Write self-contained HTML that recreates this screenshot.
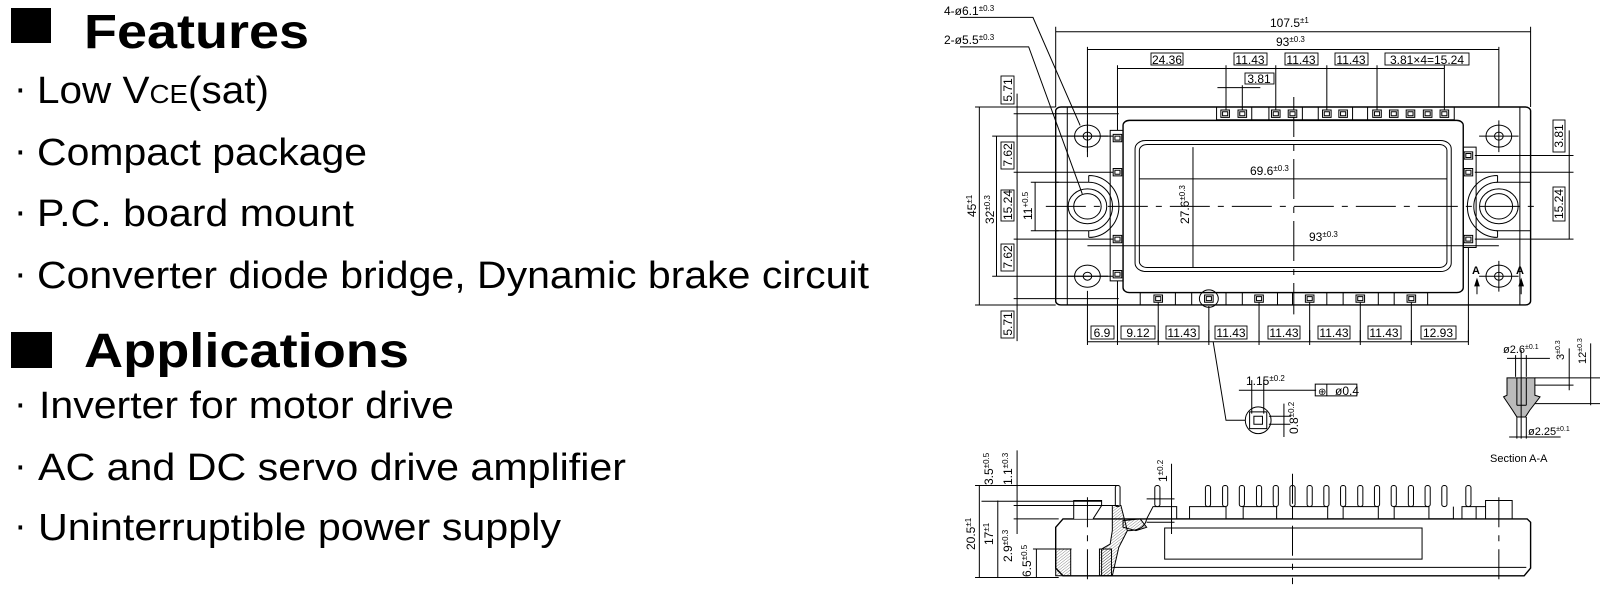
<!DOCTYPE html>
<html><head><meta charset="utf-8"><style>
html,body{margin:0;padding:0;background:#fff;}
svg{display:block;}
.t{font-family:"Liberation Sans",Arial,sans-serif;fill:#000;}
</style></head><body>
<svg width="1600" height="592" viewBox="0 0 1600 592" xmlns="http://www.w3.org/2000/svg">
<defs>
<pattern id="h" width="6" height="6" patternUnits="userSpaceOnUse" patternTransform="rotate(45)">
<line x1="0" y1="0" x2="0" y2="6" stroke="#000" stroke-width="1.2"/></pattern>
<g id="pin"><rect x="-10" y="-11" width="20" height="22" fill="#fff" stroke="#000" vector-effect="non-scaling-stroke"/><rect x="-6" y="-6" width="12" height="12" fill="none" stroke="#000" vector-effect="non-scaling-stroke"/></g>
</defs>

<!-- LEFT TEXT -->
<rect x="11" y="8" width="40" height="35" fill="#000"/>
<text class="t" x="84" y="48" font-size="48" font-weight="bold" textLength="225" lengthAdjust="spacingAndGlyphs">Features</text>
<g class="t" font-size="38">
<text class="t" x="14" y="101">·</text>
<text class="t" x="37" y="103" textLength="232" lengthAdjust="spacingAndGlyphs">Low V<tspan font-size="26">CE</tspan>(sat)</text>
<text class="t" x="14" y="163">·</text>
<text class="t" x="37" y="165" textLength="330" lengthAdjust="spacingAndGlyphs">Compact package</text>
<text class="t" x="14" y="224">·</text>
<text class="t" x="37" y="226" textLength="317" lengthAdjust="spacingAndGlyphs">P.C. board mount</text>
<text class="t" x="14" y="286">·</text>
<text class="t" x="37" y="288" textLength="832" lengthAdjust="spacingAndGlyphs">Converter diode bridge, Dynamic brake circuit</text>
</g>
<rect x="11" y="332" width="41" height="36" fill="#000"/>
<text class="t" x="84" y="367" font-size="48" font-weight="bold" textLength="325" lengthAdjust="spacingAndGlyphs">Applications</text>
<g font-size="38">
<text class="t" x="14" y="416">·</text>
<text class="t" x="39" y="418" textLength="415" lengthAdjust="spacingAndGlyphs">Inverter for motor drive</text>
<text class="t" x="14" y="478">·</text>
<text class="t" x="38" y="480" textLength="588" lengthAdjust="spacingAndGlyphs">AC and DC servo drive amplifier</text>
<text class="t" x="14" y="538">·</text>
<text class="t" x="38" y="540" textLength="523" lengthAdjust="spacingAndGlyphs">Uninterruptible power supply</text>
</g>

<!-- TOP VIEW (zoom coords) -->
<g transform="translate(930 0) scale(0.429 0.3344)" fill="none" stroke="#000" stroke-width="1">
<g vector-effect="non-scaling-stroke">
<path d="M70,52 L240,52 L350,375" vector-effect="non-scaling-stroke"/>
<path d="M70,140 L230,140 L355,580" vector-effect="non-scaling-stroke"/>
<rect x="293" y="320" width="1107" height="592" rx="12" stroke-width="1.4" vector-effect="non-scaling-stroke"/>
<path d="M293,545 L370,545 M293,690 L370,690 M1320,545 L1400,545 M1320,690 L1400,690 M320,320 L320,912 M1375,320 L1375,912" vector-effect="non-scaling-stroke"/>
<rect x="450" y="360" width="793" height="515" rx="15" stroke-width="1.4" vector-effect="non-scaling-stroke"/>
<rect x="478" y="420" width="737" height="392" rx="25" vector-effect="non-scaling-stroke"/>
<rect x="488" y="432" width="717" height="368" rx="18" vector-effect="non-scaling-stroke"/>
<rect x="668" y="320" width="554" height="38" vector-effect="non-scaling-stroke"/>
<path d="M750,320V358 M790,320V358 M868,320V358 M905,320V358 M985,320V358 M1020,320V358" vector-effect="non-scaling-stroke"/>
<rect x="420" y="390" width="30" height="450" vector-effect="non-scaling-stroke"/>
<rect x="1243" y="440" width="30" height="300" vector-effect="non-scaling-stroke"/>
<rect x="490" y="875" width="670" height="37" vector-effect="non-scaling-stroke"/>
<path d="M572,875V912 M610,875V912 M690,875V912 M728,875V912 M810,875V912 M845,875V912 M925,875V912 M963,875V912 M1045,875V912 M1082,875V912" vector-effect="non-scaling-stroke"/>
<g vector-effect="non-scaling-stroke">
<ellipse cx="367" cy="407" rx="30" ry="33" vector-effect="non-scaling-stroke"/><ellipse cx="367" cy="407" rx="10" ry="12" vector-effect="non-scaling-stroke"/>
<ellipse cx="1326" cy="407" rx="30" ry="33" vector-effect="non-scaling-stroke"/><ellipse cx="1326" cy="407" rx="10" ry="12" vector-effect="non-scaling-stroke"/>
<ellipse cx="367" cy="826" rx="30" ry="33" vector-effect="non-scaling-stroke"/><ellipse cx="367" cy="826" rx="10" ry="12" vector-effect="non-scaling-stroke"/>
<ellipse cx="1326" cy="826" rx="30" ry="33" vector-effect="non-scaling-stroke"/><ellipse cx="1326" cy="826" rx="10" ry="12" vector-effect="non-scaling-stroke"/>
<ellipse cx="367" cy="617" rx="45" ry="52" vector-effect="non-scaling-stroke"/><ellipse cx="367" cy="617" rx="32" ry="38" vector-effect="non-scaling-stroke"/>
<ellipse cx="1326" cy="617" rx="45" ry="52" vector-effect="non-scaling-stroke"/><ellipse cx="1326" cy="617" rx="32" ry="38" vector-effect="non-scaling-stroke"/>
<path d="M370,525 A70,92 0 0 1 370,710 M370,545 A55,72 0 0 1 370,690 M370,525V545 M370,690V710" vector-effect="non-scaling-stroke"/>
<path d="M1323,525 A70,92 0 0 0 1323,710 M1323,545 A55,72 0 0 0 1323,690 M1323,525V545 M1323,690V710" vector-effect="non-scaling-stroke"/>
<path d="M320,407H415 M367,360V455 M1280,407H1372 M1326,360V455 M320,826H415 M1280,826H1372 M1326,780V872" vector-effect="non-scaling-stroke"/>
</g>
<path d="M270,617H1420 M848,290V940" stroke-dasharray="40 8 6 8" vector-effect="non-scaling-stroke"/>
<path d="M293,95H1400 M293,80V320 M1400,80V320 M367,148H1326 M367,140V470 M1326,140V320 M437,205H1199 M437,195V390 M690,195V330 M806,195V330 M925,195V330 M1042,195V330 M1199,195V330 M728,255V330 M670,262H770" vector-effect="non-scaling-stroke"/>
<path d="M115,320V912 M105,320H293 M105,912H293 M155,407V826 M145,407H440 M145,826H440 M245,545V690 M235,545H300 M235,690H300 M203,280V1020 M195,340H440 M195,515H440 M195,715H440 M195,893H440" vector-effect="non-scaling-stroke"/>
<path d="M1490,390V715 M1270,465H1500 M1270,515H1500 M1270,715H1500" vector-effect="non-scaling-stroke"/>
<path d="M488,535H1205 M613,440V800 M367,735H1326" vector-effect="non-scaling-stroke"/>
<path d="M367,870V1020 M437,840V1020 M532,905V1020 M650,915V1020 M767,905V1020 M885,905V1020 M1003,905V1020 M1122,905V1020 M1255,740V1020" vector-effect="non-scaling-stroke"/>
<ellipse cx="650" cy="893" rx="22" ry="26" vector-effect="non-scaling-stroke"/>
<path d="M1275,840V880 M1378,840V880" vector-effect="non-scaling-stroke"/>
<path d="M1270,855L1275,835L1280,855Z M1373,855L1378,835L1383,855Z" fill="#000" vector-effect="non-scaling-stroke"/>
</g>
<g>
<use href="#pin" x="688" y="340"/><use href="#pin" x="728" y="340"/><use href="#pin" x="806" y="340"/><use href="#pin" x="845" y="340"/><use href="#pin" x="925" y="340"/><use href="#pin" x="963" y="340"/><use href="#pin" x="1042" y="340"/><use href="#pin" x="1081" y="340"/><use href="#pin" x="1120" y="340"/><use href="#pin" x="1160" y="340"/><use href="#pin" x="1199" y="340"/>
<use href="#pin" x="437" y="413"/><use href="#pin" x="437" y="515"/><use href="#pin" x="437" y="715"/><use href="#pin" x="437" y="820"/>
<use href="#pin" x="1255" y="465"/><use href="#pin" x="1255" y="515"/><use href="#pin" x="1255" y="715"/>
<use href="#pin" x="532" y="893"/><use href="#pin" x="650" y="893"/><use href="#pin" x="767" y="893"/><use href="#pin" x="885" y="893"/><use href="#pin" x="1003" y="893"/><use href="#pin" x="1122" y="893"/>
</g>
</g>

<!-- BOTTOM (zoom2 coords) -->
<g transform="translate(930 330) scale(0.429 0.3344)" fill="none" stroke="#000">
<path d="M367,0V45 M437,0V45 M532,0V45 M650,0V45 M767,0V45 M885,0V45 M1003,0V45 M1122,0V45 M1255,0V45 M367,35H1255" vector-effect="non-scaling-stroke"/>
<path d="M660,35 L690,270 L735,270" vector-effect="non-scaling-stroke"/>
<ellipse cx="765" cy="270" rx="30" ry="40" vector-effect="non-scaling-stroke"/>
<rect x="745" y="245" width="40" height="50" vector-effect="non-scaling-stroke"/>
<rect x="755" y="258" width="20" height="24" vector-effect="non-scaling-stroke"/>
<path d="M720,180H900 M750,150V250 M778,150V250 M825,220V320 M790,258H840 M790,282H840" vector-effect="non-scaling-stroke"/>
<rect x="898" y="162" width="97" height="35" vector-effect="non-scaling-stroke"/>
<path d="M925,162V197" vector-effect="non-scaling-stroke"/>
<path d="M1345,143 L1410,143 L1410,195 L1422,200 L1398,240 L1388,260 L1368,260 L1358,240 L1337,200 L1345,195 Z" fill="#bbb" vector-effect="non-scaling-stroke"/>
<path d="M1368,143V225 M1390,143V225 M1368,225H1390" vector-effect="non-scaling-stroke"/>
<path d="M1378,60V325 M1345,85H1445 M1365,75V140 M1390,75V140 M1350,320H1470 M1368,260V325 M1390,260V325 M1490,55V180 M1540,40V225 M1410,143H1565 M1410,165H1500 M1410,220H1565" vector-effect="non-scaling-stroke"/>
<path d="M293,590 L310,565 L1392,565 L1400,575 L1400,712 L1385,735 L310,735 L293,712 Z" fill="#fff" stroke-width="1.4" vector-effect="non-scaling-stroke"/>
<path d="M425,710H1390" vector-effect="non-scaling-stroke"/>
<rect x="547" y="592" width="600" height="93" vector-effect="non-scaling-stroke"/>
<path d="M335,565V510H400V525L380,565" fill="#fff" vector-effect="non-scaling-stroke"/>
<path d="M425,525L445,525L460,600L440,650L425,735L400,735L400,655L420,640L425,600Z" fill="url(#h)" vector-effect="non-scaling-stroke"/>
<rect x="293" y="655" width="35" height="80" fill="url(#h)" vector-effect="non-scaling-stroke"/>
<rect x="395" y="655" width="28" height="80" fill="url(#h)" vector-effect="non-scaling-stroke"/>
<path d="M450,570 L490,565 L505,590 L480,600 L450,590Z" fill="url(#h)" vector-effect="non-scaling-stroke"/>
<path d="M460,600 Q500,600 505,565 L520,528 L575,528 L575,565 L605,565 L605,528 L690,528 L690,565 L730,565 L730,528 L808,528 L808,565 L845,565 L845,528 L927,528 L927,565 L963,565 L963,528 L1045,528 L1045,565 L1082,565 L1082,528 L1163,528 L1163,565 L1220,565 L1220,528 M1240,565 L1240,528 L1295,528 M1295,565 L1295,510 L1357,510 L1357,565 M1273,528 V565" vector-effect="non-scaling-stroke"/>
<g fill="#fff" vector-effect="non-scaling-stroke">
<rect x="432" y="465" width="11" height="63" rx="5" vector-effect="non-scaling-stroke"/>
<rect x="524" y="465" width="12" height="63" rx="6" vector-effect="non-scaling-stroke"/>
<rect x="642" y="465" width="12" height="63" rx="6" vector-effect="non-scaling-stroke"/>
<rect x="682" y="465" width="12" height="63" rx="6" vector-effect="non-scaling-stroke"/>
<rect x="721" y="465" width="12" height="63" rx="6" vector-effect="non-scaling-stroke"/>
<rect x="761" y="465" width="12" height="63" rx="6" vector-effect="non-scaling-stroke"/>
<rect x="800" y="465" width="12" height="63" rx="6" vector-effect="non-scaling-stroke"/>
<rect x="839" y="465" width="12" height="63" rx="6" vector-effect="non-scaling-stroke"/>
<rect x="879" y="465" width="12" height="63" rx="6" vector-effect="non-scaling-stroke"/>
<rect x="918" y="465" width="12" height="63" rx="6" vector-effect="non-scaling-stroke"/>
<rect x="957" y="465" width="12" height="63" rx="6" vector-effect="non-scaling-stroke"/>
<rect x="997" y="465" width="12" height="63" rx="6" vector-effect="non-scaling-stroke"/>
<rect x="1036" y="465" width="12" height="63" rx="6" vector-effect="non-scaling-stroke"/>
<rect x="1075" y="465" width="12" height="63" rx="6" vector-effect="non-scaling-stroke"/>
<rect x="1115" y="465" width="12" height="63" rx="6" vector-effect="non-scaling-stroke"/>
<rect x="1154" y="465" width="12" height="63" rx="6" vector-effect="non-scaling-stroke"/>
<rect x="1193" y="465" width="12" height="63" rx="6" vector-effect="non-scaling-stroke"/>
<rect x="1249" y="465" width="12" height="63" rx="6" vector-effect="non-scaling-stroke"/>
</g>
<path d="M367,500V760 M845,430V760 M1326,500V760" stroke-dasharray="30 8 6 8" vector-effect="non-scaling-stroke"/>
<path d="M115,465V740 M158,510V740 M203,360V610 M248,655V740 M105,465H440 M120,512H400 M195,525H440 M195,565H300 M240,655H330 M105,740H300 M563,400V610 M505,505H570 M505,575H570" vector-effect="non-scaling-stroke"/>
</g>

<!-- DIMENSION TEXTS -->
<g class="t" font-size="12">
<text x="944" y="15">4-ø6.1<tspan font-size="8" dy="-4">±0.3</tspan></text>
<text x="944" y="44">2-ø5.5<tspan font-size="8" dy="-4">±0.3</tspan></text>
<text x="1270" y="27">107.5<tspan font-size="8" dy="-4">±1</tspan></text>
<text x="1276" y="46">93<tspan font-size="8" dy="-4">±0.3</tspan></text>
<text x="1250" y="175">69.6<tspan font-size="8" dy="-4">±0.3</tspan></text>
<text x="1309" y="241">93<tspan font-size="8" dy="-4">±0.3</tspan></text>
<text x="1472" y="274" font-weight="bold" font-size="11">A</text>
<text x="1516" y="274" font-weight="bold" font-size="11">A</text>
<text x="1246" y="385">1.15<tspan font-size="8" dy="-4">±0.2</tspan></text>
<text x="1335" y="395">ø0.4</text>
<text x="1318" y="395" font-size="10">⊕</text>
<text x="1503" y="353" font-size="11">ø2.6<tspan font-size="7" dy="-4">±0.1</tspan></text>
<text x="1528" y="435" font-size="11">ø2.25<tspan font-size="7" dy="-4">±0.1</tspan></text>
<text x="1490" y="462" font-size="11">Section A-A</text>
<text transform="translate(1189 224) rotate(-90)">27.6<tspan font-size="8" dy="-4">±0.3</tspan></text>
<text transform="translate(976 217) rotate(-90)">45<tspan font-size="8" dy="-4">±1</tspan></text>
<text transform="translate(994 224) rotate(-90)">32<tspan font-size="8" dy="-4">±0.3</tspan></text>
<text transform="translate(1032 220) rotate(-90)">11<tspan font-size="8" dy="-4">+0.5</tspan></text>
<text transform="translate(1298 434) rotate(-90)">0.8<tspan font-size="8" dy="-4">±0.2</tspan></text>
<text transform="translate(1564 360) rotate(-90)" font-size="11">3<tspan font-size="7" dy="-4">±0.3</tspan></text>
<text transform="translate(1586 364) rotate(-90)" font-size="11">12<tspan font-size="7" dy="-4">±0.3</tspan></text>
<text transform="translate(975 550) rotate(-90)">20.5<tspan font-size="8" dy="-4">±1</tspan></text>
<text transform="translate(993 545) rotate(-90)">17<tspan font-size="8" dy="-4">±1</tspan></text>
<text transform="translate(993 485) rotate(-90)">3.5<tspan font-size="8" dy="-4">±0.5</tspan></text>
<text transform="translate(1012 485) rotate(-90)">1.1<tspan font-size="8" dy="-4">±0.3</tspan></text>
<text transform="translate(1012 562) rotate(-90)">2.9<tspan font-size="8" dy="-4">±0.3</tspan></text>
<text transform="translate(1031 577) rotate(-90)">6.5<tspan font-size="8" dy="-4">±0.5</tspan></text>
<text transform="translate(1167 482) rotate(-90)">1<tspan font-size="8" dy="-4">±0.2</tspan></text>
</g>
<g fill="none" stroke="#000" stroke-width="0.9">
<rect x="1151" y="53" width="32" height="12"/><rect x="1234" y="53" width="33" height="12"/><rect x="1285" y="53" width="33" height="12"/><rect x="1335" y="53" width="33" height="12"/><rect x="1385" y="53" width="84" height="12"/>
<rect x="1245" y="73" width="29" height="11"/>
<rect x="1001" y="76" width="13" height="28"/><rect x="1001" y="142" width="13" height="27"/><rect x="1001" y="190" width="13" height="31"/><rect x="1001" y="244" width="13" height="27"/><rect x="1001" y="311" width="13" height="27"/>
<rect x="1553" y="120" width="12" height="32"/><rect x="1553" y="187" width="12" height="34"/>
<rect x="1091" y="326" width="23" height="13"/><rect x="1121" y="326" width="34" height="13"/><rect x="1166" y="326" width="33" height="13"/><rect x="1215" y="326" width="32" height="13"/><rect x="1268" y="326" width="32" height="13"/><rect x="1318" y="326" width="32" height="13"/><rect x="1368" y="326" width="33" height="13"/><rect x="1421" y="326" width="35" height="13"/>
</g>
<g class="t" font-size="12" text-anchor="middle">
<text x="1167" y="64">24.36</text><text x="1250" y="64">11.43</text><text x="1301" y="64">11.43</text><text x="1351" y="64">11.43</text><text x="1427" y="64">3.81×4=15.24</text>
<text x="1259" y="83">3.81</text>
<text x="1102" y="337">6.9</text><text x="1138" y="337">9.12</text><text x="1182" y="337">11.43</text><text x="1231" y="337">11.43</text><text x="1284" y="337">11.43</text><text x="1334" y="337">11.43</text><text x="1384" y="337">11.43</text><text x="1438" y="337">12.93</text>
<text transform="translate(1012 90) rotate(-90)">5.71</text>
<text transform="translate(1012 155) rotate(-90)">7.62</text>
<text transform="translate(1012 205) rotate(-90)">15.24</text>
<text transform="translate(1012 257) rotate(-90)">7.62</text>
<text transform="translate(1012 324) rotate(-90)">5.71</text>
<text transform="translate(1563 136) rotate(-90)">3.81</text>
<text transform="translate(1563 204) rotate(-90)">15.24</text>
</g>
</svg>
</body></html>
